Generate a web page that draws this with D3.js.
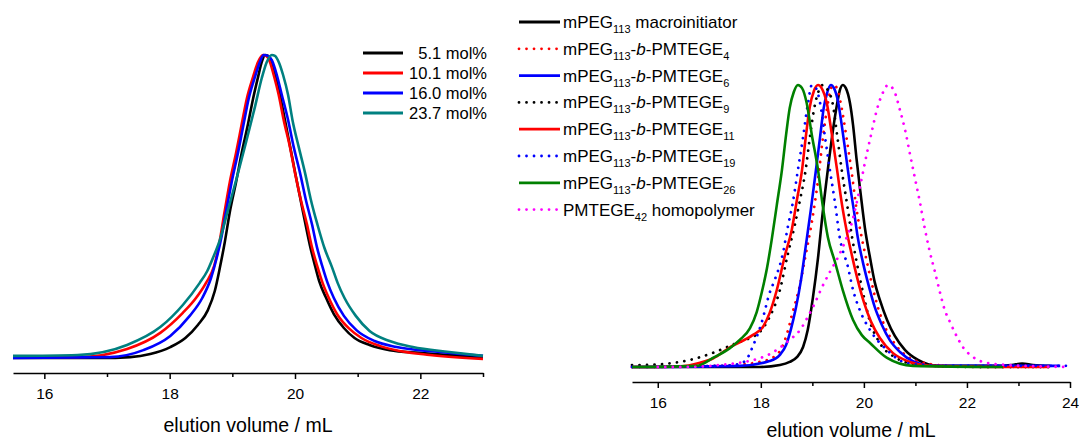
<!DOCTYPE html>
<html>
<head>
<meta charset="utf-8">
<script src="https://cdn.jsdelivr.net/npm/d3@7/dist/d3.min.js"></script>
<style>
  body { margin: 0; background: #fff; }
  text { font-family: "Liberation Sans", Arial, sans-serif; fill: #000; }
</style>
</head>
<body>
<svg class="gpc" width="1079" height="443"></svg>
<script>
// ---- left panel: copolymers with different comonomer content (elution volume, normalised RI)
var leftNames = ['5.1 mol%', '10.1 mol%', '16.0 mol%', '23.7 mol%'];
var leftColors = ['#000000', '#ff0000', '#0000ff', '#008080'];

var left51 = [[15.5,0],[16.89,0],[17.37,0.003],[17.69,0.013],[18.01,0.036],[18.25,0.066],[18.45,0.109],[18.61,0.158],
  [18.72,0.221],[18.80,0.297],[18.88,0.383],[18.96,0.482],[19.06,0.581],[19.15,0.677],[19.25,0.772],[19.33,0.855],
  [19.41,0.927],[19.47,0.977],[19.52,1],[19.57,0.997],[19.63,0.977],[19.69,0.934],[19.76,0.868],[19.84,0.785],
  [19.92,0.70],[20.00,0.614],[20.08,0.531],[20.16,0.449],[20.24,0.370],[20.32,0.304],[20.39,0.251],[20.49,0.201],
  [20.62,0.145],[20.78,0.099],[20.95,0.066],[21.19,0.043],[21.51,0.026],[21.99,0.017],[23,0.003]];
var left101 = [[15.5,0.003],[16.53,0.003],[17.32,0.03],[17.85,0.083],[18.21,0.149],[18.42,0.198],[18.58,0.248],
  [18.71,0.304],[18.79,0.376],[18.87,0.475],[18.96,0.581],[19.06,0.677],[19.15,0.772],[19.23,0.855],[19.33,0.927],
  [19.41,0.977],[19.49,1],[19.54,0.997],[19.60,0.977],[19.66,0.934],[19.74,0.868],[19.82,0.785],[19.92,0.696],
  [20.00,0.611],[20.09,0.525],[20.19,0.442],[20.27,0.366],[20.36,0.30],[20.44,0.248],[20.54,0.198],[20.68,0.142],
  [20.87,0.096],[21.06,0.066],[21.35,0.040],[21.67,0.023],[22.15,0.010],[23,-0.003]];
var left160 = [[15.5,0],[17.05,0.003],[17.58,0.026],[18.01,0.073],[18.32,0.139],[18.52,0.198],[18.66,0.264],
  [18.75,0.33],[18.83,0.403],[18.91,0.495],[18.99,0.581],[19.09,0.677],[19.18,0.772],[19.26,0.855],[19.36,0.927],
  [19.44,0.977],[19.50,1],[19.57,0.997],[19.63,0.983],[19.71,0.934],[19.79,0.868],[19.89,0.785],[19.98,0.696],
  [20.08,0.611],[20.17,0.525],[20.27,0.442],[20.35,0.366],[20.44,0.30],[20.52,0.248],[20.62,0.198],[20.78,0.139],
  [20.98,0.092],[21.27,0.056],[21.62,0.036],[22.31,0.020],[23,0.007]];
var left237 = [[15.5,0.007],[16.53,0.01],[17.32,0.043],[17.85,0.102],[18.21,0.175],[18.48,0.248],[18.60,0.287],
  [18.69,0.33],[18.80,0.389],[18.93,0.488],[19.07,0.594],[19.22,0.713],[19.36,0.828],[19.47,0.924],[19.55,0.977],
  [19.63,1],[19.68,0.997],[19.74,0.977],[19.81,0.934],[19.89,0.868],[19.96,0.785],[20.06,0.696],[20.16,0.611],
  [20.25,0.525],[20.36,0.439],[20.47,0.363],[20.59,0.30],[20.68,0.248],[20.79,0.198],[20.97,0.139],[21.19,0.089],
  [21.51,0.056],[21.88,0.036],[22.46,0.020],[23,0.007]];
var leftSeries = [left51, left101, left160, left237];

// ---- right panel: macroinitiator, block copolymers and homopolymer
var blockLengths = [4, 6, 9, 11, 19, 26];
var rightColors = ['#000000', '#ff0000', '#0000ff', '#000000', '#ff0000', '#0000ff', '#008000', '#ff00ff'];
var rightDotted = [false, true, false, true, false, true, false, true];

var peg113 = [[15.5,0],[17.98,0],[18.37,0.007],[18.56,0.018],[18.70,0.035],[18.82,0.071],[18.91,0.131],[19.01,0.245],
  [19.11,0.387],[19.20,0.546],[19.30,0.699],[19.40,0.840],[19.48,0.933],[19.53,0.979],[19.59,1],[19.65,0.989],
  [19.73,0.936],[19.79,0.858],[19.86,0.734],[19.94,0.610],[20.02,0.493],[20.12,0.387],[20.21,0.301],[20.31,0.238],
  [20.45,0.167],[20.60,0.110],[20.80,0.060],[21.05,0.025],[21.44,0.004],[22.64,0.004],[22.87,0.007],[23.07,0.012],
  [23.28,0.007],[23.61,0.004]];
var tege4 = [[15.5,0],[17.20,0.004],[17.98,0.018],[18.31,0.043],[18.50,0.113],[18.62,0.195],[18.76,0.291],[18.87,0.397],
  [18.99,0.514],[19.11,0.663],[19.20,0.805],[19.28,0.911],[19.34,0.972],[19.40,1],[19.48,0.989],[19.55,0.936],
  [19.67,0.805],[19.77,0.681],[19.86,0.557],[19.96,0.457],[20.06,0.372],[20.16,0.291],[20.27,0.213],[20.41,0.142],
  [20.60,0.082],[20.83,0.039],[21.18,0.014],[21.67,0.004],[23.6,0]];
var tege6 = [[15.5,0],[17.59,0.004],[18.17,0.021],[18.37,0.043],[18.49,0.078],[18.58,0.131],[18.68,0.209],[18.78,0.309],
  [18.87,0.426],[18.97,0.557],[19.07,0.699],[19.15,0.816],[19.22,0.918],[19.28,0.968],[19.36,1],[19.42,0.989],
  [19.50,0.940],[19.57,0.858],[19.65,0.752],[19.73,0.645],[19.81,0.550],[19.88,0.461],[19.98,0.372],[20.10,0.284],
  [20.21,0.213],[20.35,0.149],[20.50,0.096],[20.70,0.053],[20.95,0.021],[21.38,0.004],[23.81,0.004]];
var tege9 = [[15.5,0.007],[15.65,0.007],[16.43,0.018],[17.07,0.05],[17.53,0.085],[17.79,0.103],[17.98,0.124],[18.17,0.177],
  [18.37,0.273],[18.52,0.397],[18.66,0.504],[18.76,0.592],[18.87,0.699],[18.95,0.812],[19.03,0.911],[19.11,0.972],
  [19.20,1],[19.30,0.982],[19.40,0.929],[19.48,0.823],[19.57,0.699],[19.67,0.582],[19.77,0.461],[19.86,0.372],
  [19.98,0.266],[20.12,0.160],[20.31,0.085],[20.60,0.035],[21.09,0.007],[22.25,0],[23.6,0]];
var tege11 = [[15.5,0],[16.43,0.002],[16.82,0.015],[17.07,0.03],[17.40,0.07],[17.84,0.113],[18.04,0.142],[18.17,0.191],
  [18.31,0.273],[18.47,0.397],[18.60,0.486],[18.70,0.592],[18.80,0.699],[18.87,0.812],[18.95,0.922],[19.03,0.979],
  [19.11,1],[19.18,0.989],[19.28,0.936],[19.38,0.823],[19.48,0.699],[19.57,0.582],[19.67,0.479],[19.77,0.394],
  [19.88,0.309],[20.00,0.230],[20.14,0.160],[20.31,0.103],[20.56,0.050],[20.89,0.018],[21.28,0.004],[22.64,0],[23.6,0]];
var tege19 = [[15.5,0],[17.20,0.004],[17.59,0.011],[17.75,0.035],[17.84,0.071],[18.02,0.160],[18.17,0.262],[18.27,0.309],
  [18.43,0.404],[18.52,0.493],[18.62,0.582],[18.72,0.699],[18.82,0.816],[18.91,0.929],[18.99,1],[19.07,0.989],
  [19.15,0.936],[19.24,0.823],[19.34,0.699],[19.44,0.582],[19.53,0.461],[19.69,0.355],[19.79,0.273],[19.92,0.202],
  [20.12,0.131],[20.45,0.060],[20.83,0.014],[21.48,0.004],[24,0.004]];
var tege26 = [[15.5,0],[16.76,0.004],[17.07,0.032],[17.40,0.067],[17.59,0.096],[17.79,0.138],[17.92,0.195],[18.02,0.266],
  [18.12,0.351],[18.21,0.450],[18.31,0.574],[18.41,0.699],[18.49,0.823],[18.56,0.918],[18.64,0.975],[18.72,1],
  [18.80,0.989],[18.89,0.936],[18.99,0.823],[19.11,0.699],[19.20,0.574],[19.30,0.461],[19.44,0.372],[19.59,0.273],
  [19.79,0.167],[19.96,0.113],[20.12,0.085],[20.45,0.032],[20.95,0.004],[22.7,0]];
var homo42 = [[16.0,0],[16.49,0],[17.20,0.007],[18.04,0.035],[18.56,0.096],[18.76,0.131],[18.91,0.177],[19.05,0.227],
  [19.18,0.280],[19.34,0.337],[19.50,0.390],[19.67,0.461],[19.77,0.514],[19.86,0.582],[19.96,0.670],[20.06,0.759],
  [20.16,0.840],[20.25,0.911],[20.35,0.965],[20.47,1],[20.58,0.982],[20.70,0.911],[20.80,0.840],[20.89,0.759],
  [20.99,0.670],[21.09,0.582],[21.18,0.493],[21.28,0.408],[21.38,0.337],[21.48,0.262],[21.57,0.202],[21.67,0.160],
  [21.81,0.106],[21.92,0.071],[22.12,0.035],[22.31,0.018],[22.78,0.007],[24,0]];
var rightSeries = [peg113, tege4, tege6, tege9, tege11, tege19, tege26, homo42];

var leftTicks = [16, 18, 20, 22], leftMinor = [17, 19, 21, 23];
var rightTicks = [16, 18, 20, 22, 24], rightMinor = [17, 19, 21, 23];

var svg = d3.select('.gpc');

// scales (no y axis is drawn in the original)
var xL = d3.scaleLinear().domain([15.5, 23]).range([13, 483]);
var yL = d3.scaleLinear().domain([0, 1]).range([358, 55]);
var xR = d3.scaleLinear().domain([15.5, 24]).range([632, 1070]);
var yR = d3.scaleLinear().domain([0, 1]).range([367, 85]);

var dotDash = '0.01,7.5';

function drawAxis(x, ticks, minor, y0, titleGap) {
  var g = svg.append('g').attr('transform', 'translate(0,' + y0 + ')');
  g.call(d3.axisBottom(x).tickValues(ticks).tickSize(6).tickSizeOuter(0).tickPadding(9).tickFormat(d3.format('d')));
  g.append('g').call(d3.axisBottom(x).tickValues(minor).tickSize(4).tickSizeOuter(0).tickFormat(''))
    .select('.domain').remove();
  g.selectAll('path, line').attr('stroke', '#000').attr('stroke-width', 1.5);
  g.selectAll('text').attr('font-size', 15.5).attr('font-family', '"Liberation Sans", Arial, sans-serif');
  svg.append('text').attr('x', (x.range()[0] + x.range()[1]) / 2).attr('y', y0 + titleGap)
    .attr('text-anchor', 'middle').attr('font-size', 19.5).text('elution volume / mL');
}
drawAxis(xL, leftTicks, leftMinor, 373, 59);
drawAxis(xR, rightTicks, rightMinor, 382, 55);

var lineL = d3.line().x(function(d) { return xL(d[0]); }).y(function(d) { return yL(d[1]); }).curve(d3.curveMonotoneX);
var lineR = d3.line().x(function(d) { return xR(d[0]); }).y(function(d) { return yR(d[1]); }).curve(d3.curveMonotoneX);

svg.append('g').selectAll('path').data(leftSeries).enter().append('path')
  .attr('d', lineL).attr('fill', 'none').attr('stroke-width', 2.6)
  .attr('stroke', function(d, i) { return leftColors[i]; });

svg.append('g').selectAll('path').data(rightSeries).enter().append('path')
  .attr('d', lineR).attr('fill', 'none')
  .attr('stroke-width', function(d, i) { return rightDotted[i] ? 2.8 : 2.6; })
  .attr('stroke-linecap', function(d, i) { return rightDotted[i] ? 'round' : 'butt'; })
  .attr('stroke-dasharray', function(d, i) { return rightDotted[i] ? dotDash : null; })
  .attr('stroke', function(d, i) { return rightColors[i]; });

// left legend
var legL = svg.append('g');
leftNames.forEach(function(name, i) {
  var yy = 53 + i * 20;
  legL.append('line').attr('x1', 363).attr('x2', 403).attr('y1', yy).attr('y2', yy)
    .attr('stroke', leftColors[i]).attr('stroke-width', 2.8);
  legL.append('text').attr('x', 487).attr('y', yy + 6).attr('text-anchor', 'end')
    .attr('font-size', 16.5).text(name);
});

// right legend, with subscripts and italic b
var rightNames = [[['mPEG'], ['113', 'sub'], [' macroinitiator']]];
blockLengths.forEach(function(n) {
  rightNames.push([['mPEG'], ['113', 'sub'], ['-'], ['b', 'i'], ['-PMTEGE'], [String(n), 'sub']]);
});
rightNames.push([['PMTEGE'], ['42', 'sub'], [' homopolymer']]);

var legR = svg.append('g');
rightNames.forEach(function(parts, i) {
  var yy = 22 + i * 26.8;
  legR.append('line').attr('x1', 519).attr('x2', 560).attr('y1', yy).attr('y2', yy)
    .attr('stroke', rightColors[i]).attr('stroke-width', rightDotted[i] ? 2.8 : 2.8)
    .attr('stroke-linecap', rightDotted[i] ? 'round' : 'butt')
    .attr('stroke-dasharray', rightDotted[i] ? dotDash : null);
  var t = legR.append('text').attr('x', 563).attr('y', yy + 6).attr('font-size', 17);
  var down = false;
  parts.forEach(function(p) {
    var s = t.append('tspan').text(p[0]);
    if (p[1] == 'sub') { s.attr('font-size', 11).attr('dy', 5); down = true; }
    else {
      if (down) { s.attr('dy', -5); down = false; }
      if (p[1] == 'i') s.attr('font-style', 'italic');
    }
  });
});
</script>
</body>
</html>
